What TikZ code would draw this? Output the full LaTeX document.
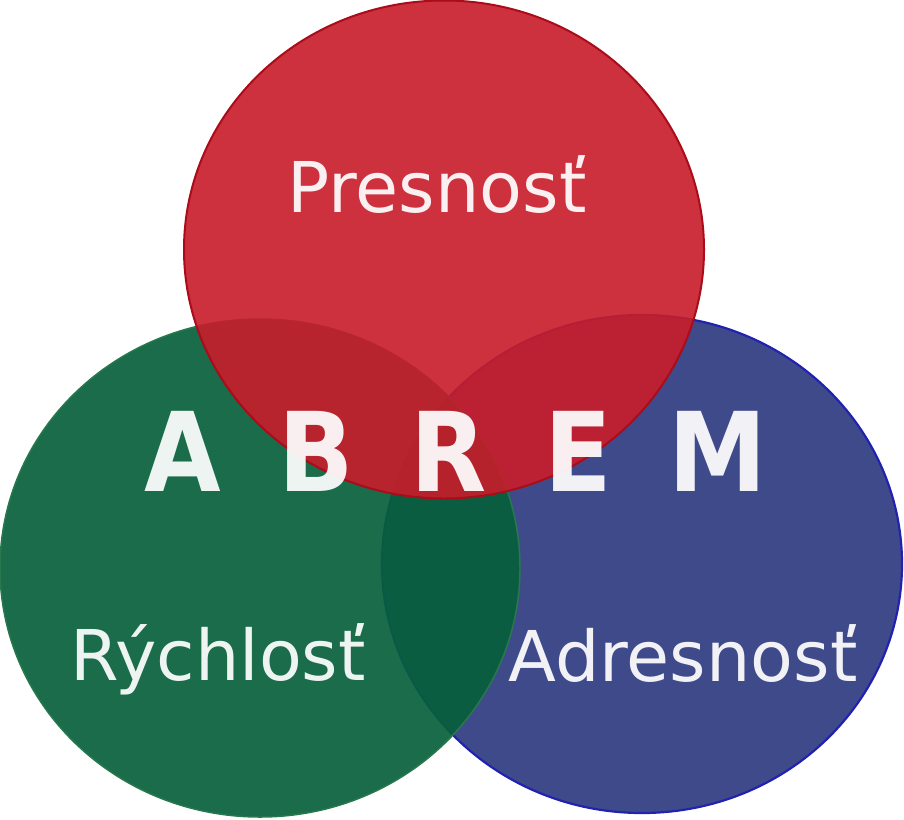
\documentclass[tikz,border=0pt]{standalone}
\usepackage{fontspec}
\setmainfont{DejaVu Sans}
\newfontfamily\abremFont[FakeStretch=0.9]{DejaVu Sans}
\usepackage{xcolor}
\usepackage{tikz}
\usetikzlibrary{shapes.geometric}
\definecolor{setPresnost}{RGB}{199,29,42}
\definecolor{setRychlost}{RGB}{7,95,59}
\definecolor{setAdresnost}{RGB}{47,59,129}
\definecolor{lineRed}{RGB}{170,12,26}
\definecolor{lineGreen}{RGB}{40,120,78}
\definecolor{lineBlue}{RGB}{34,34,176}
\newcommand{\wideSpacing}{\spaceskip 57pt\relax}
\tikzset{
  vennSet/.style={
    ellipse,
    inner sep=0pt,
    minimum width=520pt,
    minimum height=498pt
  },
  presnostSet/.style={vennSet, fill=setPresnost, fill opacity=0.91, draw=lineRed, line width=2pt},
  rychlostSet/.style={vennSet, fill=setRychlost, fill opacity=0.92, draw=lineGreen, line width=1.5pt},
  adresnostSet/.style={vennSet, fill=setAdresnost, fill opacity=0.92, draw=lineBlue, line width=2.2pt},
  setLabel/.style={anchor=base, inner sep=0pt, text=white, text opacity=0.93,
    font=\fontsize{70}{84}\selectfont},
  titleLabel/.style={anchor=base, inner sep=0pt, text=white, text opacity=0.93,
    font=\abremFont\fontsize{110}{132}\bfseries\selectfont\wideSpacing}
}

\begin{document}
\begin{tikzpicture}[x=1pt, y=-1pt]
  \useasboundingbox (0,0) rectangle (904,819);
  \node[adresnostSet] (adresnost) at (642,564) {};
  \node[rychlostSet] (rychlost) at (260,568) {};
  \node[presnostSet] (presnost) at (444,249.5) {};

  \node[setLabel] (presnostText) at (437,212) {Presnosť};
  \node[setLabel] (rychlostText) at (218,680) {Rýchlosť};
  \node[setLabel] (adresnostText) at (683,681) {Adresnosť};
  \node[titleLabel] (abrem) at (456,491) {A B R E M};
\end{tikzpicture}
\end{document}
